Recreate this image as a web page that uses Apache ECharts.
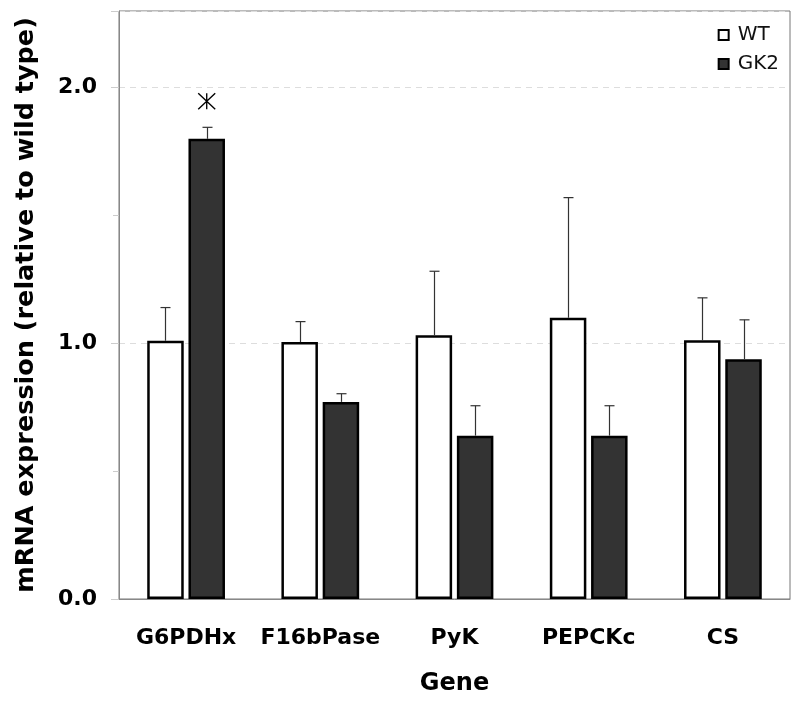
<!DOCTYPE html>
<html><head><meta charset="utf-8">
<script src="https://cdn.jsdelivr.net/npm/echarts@6/dist/echarts.min.js"></script>
<style>html,body{margin:0;padding:0;background:#fff}#c{width:800px;height:703px}</style>
</head><body><div id="c"></div>
<script>
const categories = ['G6PDHx', 'F16bPase', 'PyK', 'PEPCKc', 'CS'];
const wtMeans  = [1.01, 1.005, 1.032, 1.10, 1.012];
const wtErr    = [0.13, 0.08, 0.25, 0.47, 0.166];
const gk2Means = [1.80, 0.771, 0.639, 0.639, 0.938];
const gk2Err   = [0.045, 0.032, 0.117, 0.117, 0.154];
const yTicks = [0, 1, 2];
const starPoint = { cat: 'G6PDHx', value: 1.947 };

const FONT = '"DejaVu Sans", sans-serif';
const BAR_FRAC = 0.272, GAP = 0.13;
const offFrac = BAR_FRAC * (1 + GAP) / 2;

function errSeries(name, means, errs, sign) {
  return {
    type: 'custom', name: name + ' err', z: 5, silent: true,
    data: means.map((m, i) => [i, m, m + errs[i]]),
    renderItem: function (params, api) {
      const band = api.size([1, 0])[0];
      const base = api.coord([api.value(0), api.value(1)]);
      const top = api.coord([api.value(0), api.value(2)]);
      const x = Math.round(base[0] + sign * offFrac * band) + 0.5;
      const cap = 5;
      const st = { stroke: '#333', lineWidth: 1.2 };
      return { type: 'group', children: [
        { type: 'line', shape: { x1: x, y1: base[1], x2: x, y2: top[1] }, style: st },
        { type: 'line', shape: { x1: x - cap, y1: top[1], x2: x + cap, y2: top[1] }, style: st }
      ]};
    }
  };
}

const chart = echarts.init(document.getElementById('c'));
chart.setOption({
  animation: false,
  backgroundColor: '#fff',
  grid: { left: 119, right: 10, top: 11, bottom: 104, show: true, borderColor: '#777', borderWidth: 1 },
  legend: {
    right: 16, top: 20, orient: 'vertical', itemWidth: 10, itemHeight: 10, itemGap: 9,
    icon: 'rect',
    data: ['WT', 'GK2'],
    textStyle: { fontFamily: FONT, fontSize: 20, color: '#111', padding: [0, 0, 0, 4] }
  },
  xAxis: {
    type: 'category', data: categories,
    name: 'Gene', nameLocation: 'middle', nameGap: 73,
    nameTextStyle: { fontFamily: FONT, fontSize: 24, fontWeight: 'bold', color: '#000' },
    axisLine: { lineStyle: { color: '#888' } },
    axisTick: { length: 8, lineStyle: { color: '#ccc' } },
    axisLabel: { interval: 0, hideOverlap: false, fontFamily: FONT, fontSize: 22, fontWeight: 'bold', color: '#000', margin: 28 }
  },
  yAxis: {
    type: 'value', min: 0, max: 2.3, interval: 1,
    name: 'mRNA expression (relative to wild type)', nameLocation: 'middle', nameGap: 80,
    nameTextStyle: { fontFamily: FONT, fontSize: 25.5, fontWeight: 'bold', color: '#000' },
    axisLine: { show: true, lineStyle: { color: '#888' } },
    axisTick: { show: true, length: 8, lineStyle: { color: '#ccc' } },
    minorTick: { show: true, splitNumber: 2, length: 6, lineStyle: { color: '#ccc' } },
    splitLine: { show: true, lineStyle: { color: '#ddd', type: [6, 5] } },
    axisLabel: {
      fontFamily: FONT, fontSize: 22, fontWeight: 'bold', color: '#000', margin: 22,
      formatter: v => yTicks.includes(v) ? v.toFixed(1) : ''
    }
  },
  series: [
    {
      name: 'WT', type: 'bar', data: wtMeans, barWidth: (BAR_FRAC * 100) + '%', barGap: (GAP * 100) + '%',
      itemStyle: { color: '#fff', borderColor: '#000', borderWidth: 2.5 }
    },
    {
      name: 'GK2', type: 'bar', data: gk2Means, barWidth: (BAR_FRAC * 100) + '%',
      itemStyle: { color: '#333', borderColor: '#000', borderWidth: 2.5 },
      markPoint: {
        symbol: 'path://M0,-8L0,8M-8.5,-8L8.5,8M-8.5,8L8.5,-8', symbolSize: [17, 16],
        itemStyle: { color: 'none', borderColor: '#000', borderWidth: 1.3 },
        label: { show: false },
        data: [{ coord: [starPoint.cat, starPoint.value] }]
      }
    },
    errSeries('WT', wtMeans, wtErr, -1),
    errSeries('GK2', gk2Means, gk2Err, 1)
  ]
});
</script></body></html>
